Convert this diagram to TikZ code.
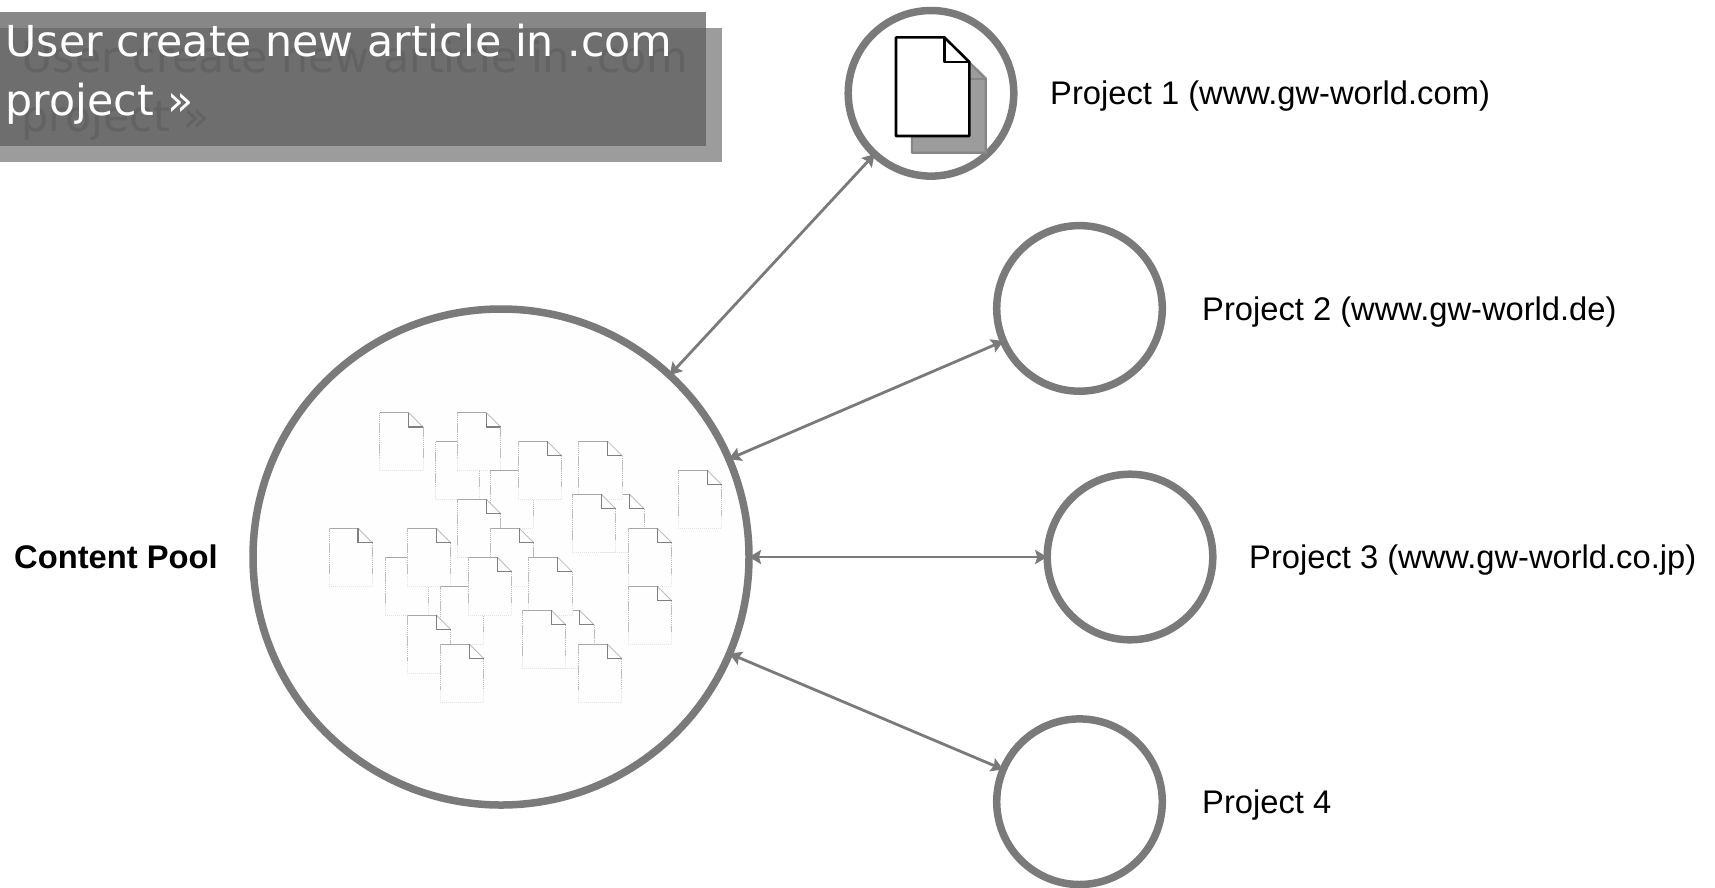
\documentclass[tikz,border=0pt]{standalone}
\usepackage{fontspec}
\setmainfont{Liberation Sans}
\newfontfamily\bannerfont{DejaVu Sans}
\usetikzlibrary{arrows.meta}
\definecolor{ringgray}{HTML}{7A7A7A}
\definecolor{linkgray}{HTML}{7A7A7A}
\definecolor{poolfill}{HTML}{FEFEFE}
\tikzset{
  ring/.style={circle,draw=ringgray,line width=7.5pt,fill=white,minimum size=165.6pt,inner sep=0pt,outer sep=0pt},
  poolring/.style={ring,fill=poolfill,minimum size=496pt},
  link/.style={draw=linkgray,line width=2.8pt,{Stealth[length=12pt,width=14pt,inset=2pt]}-{Stealth[length=12pt,width=14pt,inset=2pt]}},
  projlabel/.style={anchor=base west,inner sep=0pt,font=\fontsize{32.7}{36}\selectfont,text=black},
  bannertext/.style={anchor=north west,inner sep=0pt,align=left,font=\bannerfont\fontsize{42.7}{59}\selectfont},
  edgetop/.style={draw=black!34,line width=.9pt},
  edgeside/.style={draw=black!26,line width=.9pt,dash pattern=on 1.5pt off .6pt},
  edgefaint/.style={draw=black!11,line width=.9pt,dash pattern=on 1pt off 1pt},
  edgefold/.style={draw=black!50,line width=1.1pt},
  edgediag/.style={draw=black!25,line width=.8pt}
}
\begin{document}
\begin{tikzpicture}[x=1pt,y=-1pt]
\useasboundingbox (0,0) rectangle (1715,887);
% banner
\fill[fill=black!47] (0,12) rectangle (705.5,145.5);
\fill[fill=black!39] (0,28.4) rectangle (722,162);
\fill[fill=black!57] (0,28.4) rectangle (705.5,145.5);
\node[bannertext,text=black!61] (bannershadow) at (21.5,40) {User create new article in .com\\project »};
\node[bannertext,text=white] (banner) at (5.5,24) {User create new article in .com\\project »};
% circles
\node[poolring] (pool) at (501,557) {};
\node[ring] (p1) at (931,93.3) {};
\node[ring] (p2) at (1079.5,308.4) {};
\node[ring] (p3) at (1130,557) {};
\node[ring] (p4) at (1079.5,801.7) {};
% pool documents, back to front
\foreach \docx/\docy in {379.5/412.5,678.3/470.3,329/528.3,435.5/441.5,457.3/412.5,490.3/470.3,518.3/441.3,
  457.3/499.3,600.5/494.3,578.7/441.3,572.3/494.3,628.3/528.3,628.3/586.3,385.3/557.3,407.3/528.3,
  490.3/528.3,440.3/586.3,468.3/557.3,550.5/610.3,528.7/557.3,522.3/610.3,407.3/615,440.3/644,578.3/644}
  {\begin{scope}[shift={(\docx,\docy)}]
    \fill[poolfill] (0,0)--(29,0)--(43.5,14.5)--(43.5,58)--(0,58)--cycle;
    \draw[edgetop] (0,0)--(29,0);
    \draw[edgediag] (29,0)--(43.5,14.5);
    \draw[edgefold] (29,0)--(29,14.5)--(43.5,14.5);
    \draw[edgeside] (0,0)--(0,46);
    \draw[edgeside] (43.5,14.5)--(43.5,46);
    \draw[edgefaint] (0,46)--(0,58)--(43.5,58)--(43.5,46);
   \end{scope}}
% highlighted document
\draw[draw=black!47,fill=black!39,line width=2.4pt,line join=round] (912,53.5)--(960.3,53.5)--(985.7,78.5)--(985.7,152.7)--(912,152.7)--cycle;
\draw[draw=black!47,line width=2pt] (960,62)--(960,78.5)--(985.7,78.5);
\draw[draw=black,fill=white,line width=2.6pt,line join=round] (896,37.3)--(944.3,37.3)--(969.3,62)--(969.3,136)--(896,136)--cycle;
\draw[draw=black,line width=2.6pt,line join=round] (944.3,37.3)--(944.3,62)--(969.3,62);
% connectors
\draw[link] (pool) -- (p1);
\draw[link] (pool) -- (p2);
\draw[link] (pool) -- (p3);
\draw[link] (pool) -- (p4);
% labels
\node[projlabel] (l1) at (1050,104) {Project 1 (www.gw-world.com)};
\node[projlabel] (l2) at (1202,320) {Project 2 (www.gw-world.de)};
\node[projlabel] (l3) at (1249,568) {Project 3 (www.gw-world.co.jp)};
\node[projlabel] (l4) at (1202,813) {Project 4};
\node[projlabel,font=\bfseries\fontsize{32.7}{36}\selectfont] (lpool) at (14,568) {Content Pool};
\end{tikzpicture}
\end{document}
